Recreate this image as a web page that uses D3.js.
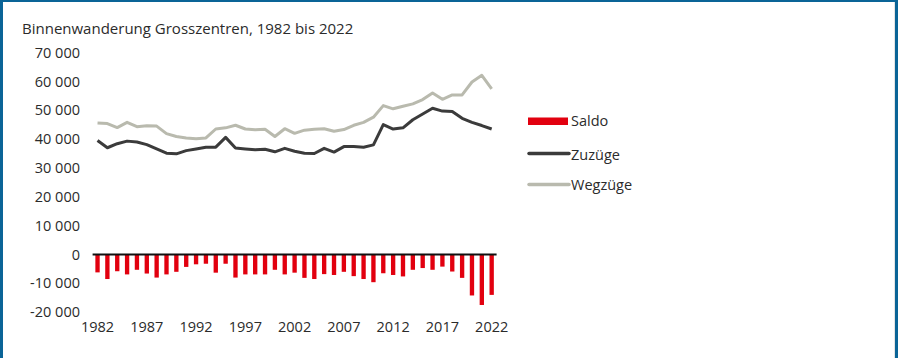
<!DOCTYPE html>
<html>
<head>
<meta charset="utf-8">
<script src="https://cdn.jsdelivr.net/npm/d3@7"></script>
<style>
  html, body { margin: 0; padding: 0; background: #fff; }
  svg { display: block; }
  text { font-family: "Open Sans", sans-serif; fill: #2b2b2b; }
</style>
</head>
<body>
<svg id="chart" width="898" height="358"></svg>
<script>
const years = d3.range(1982, 2023);
const saldo = [
  -6200, -8500, -5800, -6900, -5300, -6600, -8000, -6900, -6000, -4300,
  -3400, -3200, -6300, -3200, -8000, -6900, -6900, -6900, -5300, -6900,
  -6300, -8100, -8500, -6800, -7100, -6000, -7500, -8500, -9600, -6500,
  -7100, -7600, -5300, -4700, -5300, -4200, -5900, -8100, -14200, -17500, -14000
];
const zuzuege = [
  39500, 37000, 38400, 39300, 39000, 38100, 36600, 35100, 34900, 36000,
  36600, 37200, 37200, 40600, 36900, 36600, 36300, 36500, 35600, 36800,
  35800, 35100, 35000, 36800, 35500, 37400, 37400, 37200, 38000, 45000,
  43500, 43900, 46700, 48700, 50700, 49700, 49600, 47200, 45800, 44700, 43500
];
const wegzuege = [
  45600, 45400, 44000, 45800, 44300, 44600, 44500, 41900, 40900, 40400,
  40100, 40400, 43500, 43900, 44800, 43500, 43200, 43400, 40900, 43600,
  42000, 43100, 43400, 43600, 42700, 43300, 44800, 45800, 47600, 51600,
  50500, 51400, 52200, 53700, 56000, 53800, 55300, 55300, 59800, 62100, 57400
];
const yTicks = [-20000, -10000, 0, 10000, 20000, 30000, 40000, 50000, 60000, 70000];
const xTickYears = [1982, 1987, 1992, 1997, 2002, 2007, 2012, 2017, 2022];
const title = "Binnenwanderung Grosszentren, 1982 bis 2022";
const legendItems = ["Saldo", "Zuzüge", "Wegzüge"];

const colors = { saldo: "#e2000f", zu: "#3b3b3b", weg: "#b9baae", frame: "#0a6497" };

const svg = d3.select("#chart");

// frame
svg.append("rect").attr("x", 0).attr("y", 0).attr("width", 898).attr("height", 2).attr("fill", colors.frame);
svg.append("rect").attr("x", 0).attr("y", 0).attr("width", 3).attr("height", 358).attr("fill", colors.frame);
svg.append("rect").attr("x", 895).attr("y", 0).attr("width", 3).attr("height", 358).attr("fill", colors.frame);
svg.append("line").attr("x1", 894.5).attr("x2", 894.5).attr("y1", 2).attr("y2", 358).attr("stroke", "#e4e4e4").attr("stroke-width", 1);

const x = d3.scaleBand().domain(years).range([92.6, 496.6]).paddingInner(0.56).paddingOuter(0.28);
const y = d3.scaleLinear().domain([-20000, 70000]).range([312.2, 52.55]);
const cx = d => x(d) + x.bandwidth() / 2;

// title
svg.append("text").attr("x", 22).attr("y", 34).attr("font-size", 15).text(title);

// y axis labels
const fmtNum = v => {
  const s = Math.abs(v).toString();
  const t = s.length > 3 ? s.slice(0, s.length - 3) + " " + s.slice(s.length - 3) : s;
  return (v < 0 ? "-" : "") + t;
};
const yAxis = d3.axisLeft(y).tickValues(yTicks).tickSize(0).tickPadding(0).tickFormat(fmtNum);
const gy = svg.append("g").attr("transform", "translate(80,0)").call(yAxis);
gy.select(".domain").remove();
gy.selectAll("text").attr("font-family", "Open Sans, sans-serif").attr("font-size", 14.5).attr("fill", "#2b2b2b");

// x axis labels
const xAxis = d3.axisBottom(x).tickValues(xTickYears).tickSize(0).tickPadding(0);
const gx = svg.append("g").attr("transform", "translate(0,322)").call(xAxis);
gx.select(".domain").remove();
gx.selectAll("text").attr("font-family", "Open Sans, sans-serif").attr("font-size", 14.5).attr("fill", "#2b2b2b");

// bars
svg.append("g").selectAll("rect").data(years).join("rect")
  .attr("x", d => x(d))
  .attr("width", x.bandwidth())
  .attr("y", y(0))
  .attr("height", (d, i) => y(saldo[i]) - y(0))
  .attr("fill", colors.saldo);

// zero line
svg.append("line").attr("x1", 92.6).attr("x2", 496.6).attr("y1", y(0)).attr("y2", y(0))
  .attr("stroke", "#111").attr("stroke-width", 2);

// lines
const line = d3.line().x((d, i) => cx(years[i])).y(d => y(d));
svg.append("path").datum(wegzuege).attr("d", line).attr("fill", "none")
  .attr("stroke", colors.weg).attr("stroke-width", 3).attr("stroke-linejoin", "round");
svg.append("path").datum(zuzuege).attr("d", line).attr("fill", "none")
  .attr("stroke", colors.zu).attr("stroke-width", 3).attr("stroke-linejoin", "round");

// legend
const lg = svg.append("g");
lg.append("rect").attr("x", 528).attr("y", 117.5).attr("width", 40).attr("height", 7.5).attr("fill", colors.saldo);
lg.append("line").attr("x1", 529).attr("x2", 569).attr("y1", 153.5).attr("y2", 153.5)
  .attr("stroke", colors.zu).attr("stroke-width", 3.5).attr("stroke-linecap", "round");
lg.append("line").attr("x1", 529).attr("x2", 569).attr("y1", 184.5).attr("y2", 184.5)
  .attr("stroke", colors.weg).attr("stroke-width", 3.5).attr("stroke-linecap", "round");
const ly = [126, 160, 190];
legendItems.forEach((t, i) => {
  lg.append("text").attr("x", 571).attr("y", ly[i]).attr("font-size", 14.5).text(t);
});
</script>
</body>
</html>
